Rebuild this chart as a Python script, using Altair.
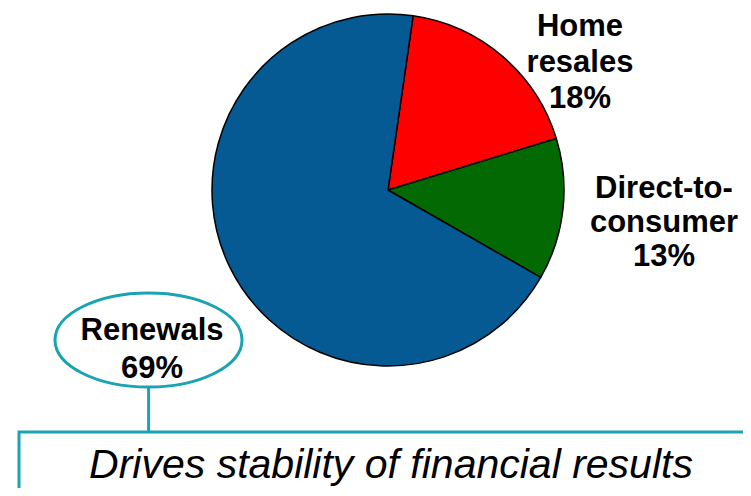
import math
import altair as alt
import pandas as pd

# ---- data ----
categories = ["Home resales", "Direct-to-consumer", "Renewals"]
shares = [18, 13, 69]
label_words = [["Home", "resales"], ["Direct-to-", "consumer"], ["Renewals"]]
footer_text = "Drives stability of financial results"

# ---- styles ----
colors = ["#FF0000", "#036A03", "#055A94"]
TEAL = "#1AA3B3"
FONT = "Liberation Sans"
W, H = 735, 480
CX, CY, R = 380, 182, 176
START = math.radians(8.2)

df = pd.DataFrame({"category": categories, "share": shares, "order": list(range(len(categories)))})

pie = alt.Chart(df).mark_arc(radius=R, stroke="black", strokeWidth=1.5).encode(
    theta=alt.Theta("share:Q", stack=True,
                    scale=alt.Scale(range=[START, START + 2 * math.pi])),
    color=alt.Color("category:N", scale=alt.Scale(domain=categories, range=colors), legend=None),
    order=alt.Order("order:Q"),
    x=alt.value(CX),
    y=alt.value(CY),
)

# label positions (center x, first-line baseline y, line height)
label_layout = [(572, 28, 36), (656, 190, 34), (144, 332, 38)]

label_layers = []
for i, (lx, ly, lh) in enumerate(label_layout):
    txt = "\n".join(label_words[i] + [f"{shares[i]}%"])
    d = pd.DataFrame({"label": [txt]})
    label_layers.append(
        alt.Chart(d).mark_text(font=FONT, fontSize=31, fontWeight="bold", color="black",
                               align="center", baseline="alphabetic", lineBreak="\n",
                               lineHeight=lh).encode(
            text="label:N", x=alt.value(lx), y=alt.value(ly))
    )

one = pd.DataFrame({"a": [0]})
ellipse_path = "M -1 0 A 1 0.503 0 1 1 1 0 A 1 0.503 0 1 1 -1 0 Z"
ellipse = alt.Chart(one).mark_point(shape=ellipse_path, size=187 ** 2, filled=False,
                                    stroke=TEAL, strokeWidth=3, opacity=1).encode(
    x=alt.value(140.5), y=alt.value(332))

connector = alt.Chart(one).mark_rule(color=TEAL, strokeWidth=3).encode(
    x=alt.value(140.6), y=alt.value(379), y2=alt.value(424))

box = alt.Chart(one).mark_rect(fill=None, fillOpacity=0, stroke=TEAL, strokeWidth=3, clip=True).encode(
    x=alt.value(11), x2=alt.value(780), y=alt.value(424), y2=alt.value(540))

footer = alt.Chart(pd.DataFrame({"t": [footer_text]})).mark_text(
    font=FONT, fontSize=41, fontStyle="italic", color="black",
    align="center", baseline="alphabetic").encode(
    text="t:N", x=alt.value(383), y=alt.value(470))

chart = alt.layer(pie, ellipse, connector, box, footer, *label_layers).properties(
    width=W, height=H, padding=0, autosize=alt.AutoSizeParams(type="none")
).configure_view(stroke=None)

chart.save("out.html", embed_options={"renderer": "svg", "actions": False})
